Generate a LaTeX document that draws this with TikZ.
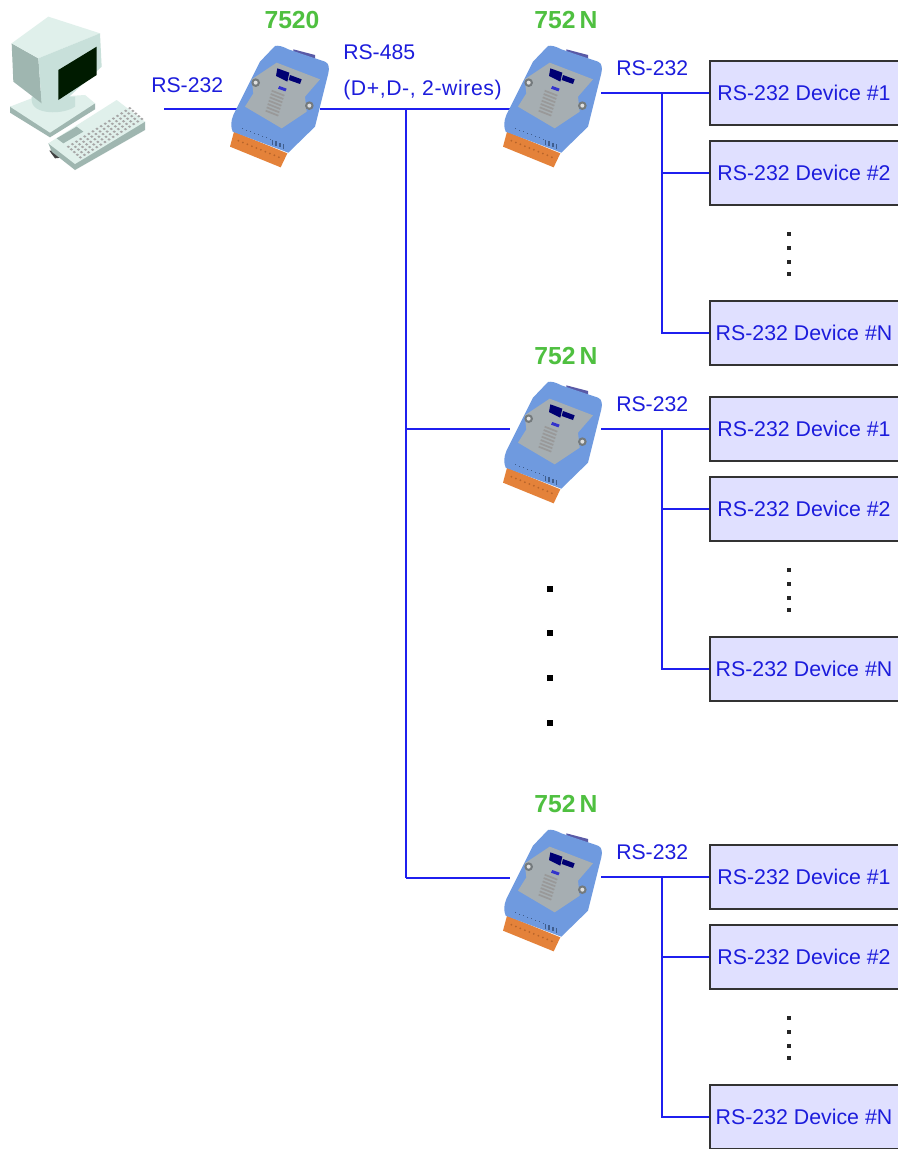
\documentclass[tikz,border=0pt]{standalone}
\usepackage{fontspec}
\setmainfont{Liberation Sans}
\definecolor{wire}{HTML}{1F1FEF}
\definecolor{lbl}{HTML}{1C1CDC}
\definecolor{boxfill}{HTML}{E0E0FF}
\definecolor{grn}{HTML}{4FC040}
\definecolor{modblue}{HTML}{6F9ADF}
\definecolor{moddark}{HTML}{5A86CC}
\definecolor{modplate}{HTML}{A6AEB2}
\definecolor{termo}{HTML}{E4823A}
\definecolor{termd}{HTML}{B8652A}
\definecolor{pcl}{HTML}{E0F0EB}
\definecolor{pcm}{HTML}{C8E0DA}
\definecolor{pcd}{HTML}{9FB6B0}
\tikzset{
  x=0.75pt,y=-0.75pt,
  wireline/.style={draw=wire,line width=1.7pt},
  devbox/.style={draw=black!80,fill=boxfill,line width=1.5pt,minimum width=145.5pt,minimum height=48pt,inner sep=0pt,text=lbl,font=\fontsize{16}{18}\selectfont},
  wirelabel/.style={text=lbl,font=\fontsize{15.9}{18}\selectfont,inner sep=0pt,anchor=west},
  modlabel/.style={text=grn,font=\fontsize{18.5}{20}\selectfont\bfseries,inner sep=0pt},
  bigdot/.style={fill=black,draw=none,minimum size=3.9pt,inner sep=0pt},
  smalldot/.style={fill=black!85,draw=none,minimum size=3pt,inner sep=0pt},
  module/.pic={
    \begin{scope}[x=.25pt,y=-.25pt]
      % connector
      \fill[gray!70!blue] (880,148) -- (945,165) -- (945,190) -- (880,175) -- cycle;
      % terminal block
      \fill[termo] (702,395) -- (862,460) -- (842,502) -- (690,440) -- cycle;
      \foreach \i in {0,...,9}
        \fill[termd] (715+\i*13.5,422+\i*5.5) circle[radius=3];
      % body
      \fill[modblue] (825,138) .. controls (835,135) and (850,140) .. (865,148)
        -- (975,185) .. controls (988,190) and (988,205) .. (985,220)
        -- (945,380) -- (865,458) -- (698,395) .. controls (692,380) and (692,365) .. (700,345)
        -- (780,185) -- cycle;
      % plate
      \fill[modplate] (755,238) -- (830,188) -- (960,238) -- (915,290) -- (920,335) -- (845,385) -- (735,320) -- (760,280) -- cycle;
      % screws
      \fill[modplate!70!black] (767,248) circle[radius=13];
      \fill[modplate!70!black] (928,317) circle[radius=13];
      \fill[white!75!gray] (767,248) circle[radius=6];
      \fill[white!75!gray] (928,317) circle[radius=6];
      % logo and printing
      \fill[blue!45!black] (832,205) -- (868,218) -- (862,245) -- (828,228) -- cycle;
      \fill[blue!45!black] (870,225) -- (905,238) -- (900,252) -- (866,240) -- cycle;
      \fill[blue!60!gray] (838,258) -- (860,266) -- (856,274) -- (834,266) -- cycle;
      \foreach \i in {0,...,6}
        \draw[black!40,line width=1.3pt] (815-\i*3,272+\i*10) -- ++(38,15);
      \foreach \i in {0,...,7}
        \fill[moddark!70!black] (725+\i*12,384+\i*4.5) rectangle ++(5,4);
      \foreach \i in {0,...,3}
        \fill[moddark!70!black] (815+\i*11,420+\i*4) rectangle ++(5,14);
    \end{scope}
  }
}
\begin{document}
\begin{tikzpicture}
\useasboundingbox (0,0) rectangle (898,1149);
\clip (0,0) rectangle (898,1149);
\fill[white] (0,0) rectangle (898,1149);

% computer
\begin{scope}[x=.25pt,y=-.25pt]
  % base
  \fill[pcd] (30,320) -- (30,338) -- (150,412) -- (285,328) -- (285,310) -- cycle;
  \fill[pcl] (30,320) -- (95,295) -- (255,285) -- (285,310) -- (150,398) -- cycle;
  \fill[pcm] (95,300) .. controls (95,345) and (190,345) .. (225,320) -- (225,290) -- (95,290) -- cycle;
  % monitor
  \fill[pcd] (35,130) -- (115,175) -- (125,310) -- (40,245) -- cycle;
  \fill[pcl] (35,130) -- (145,50) -- (300,100) -- (115,175) -- cycle;
  \fill[pcm] (115,175) -- (300,100) -- (305,200) -- (175,320) -- (125,310) -- cycle;
  \fill[black!85!green!70!black] (175,210) -- (290,140) -- (290,225) -- (175,300) -- cycle;
  % keyboard
  \fill[black!75] (148,452) -- (175,450) -- (195,472) -- (165,475) -- cycle;
  \fill[pcd] (145,430) -- (155,455) -- (225,510) -- (435,390) -- (435,365) -- cycle;
  \fill[pcl] (145,430) -- (350,300) -- (435,365) -- (225,492) -- cycle;
  \foreach \i in {0,...,15}
    \foreach \j in {0,...,4}
      \fill[gray!70] (200+\i*12.3+\j*9,440-\i*7.7+\j*8) -- ++(5,-3.5) -- ++(5,4) -- ++(-5,3.5) -- cycle;
  \fill[pcd] (170,415) -- (230,380) -- (250,395) -- (190,430) -- cycle;
\end{scope}

% named points
\coordinate (pc) at (164,109);
\coordinate (aw) at (238,109);
\coordinate (ae) at (320,109);
\coordinate (bw) at (510,109);
\coordinate (j1) at (406,109);
\coordinate (cw) at (510,429);
\coordinate (dw) at (510,878);
\coordinate (j2) at (406,429);
\coordinate (j3) at (406,878);

\draw[wireline] (pc) -- (aw);
\draw[wireline] (ae) -- (bw);
\draw[wireline] (j1) -- (j3);
\draw[wireline] (j2) -- (cw);
\draw[wireline] (j3) -- (dw);

\pic (a) at (0,0) {module};
\node[modlabel] (lab7520) at (292,20) {7520};
\node[wirelabel] (l232) at (151,85) {RS-232};
\node[wirelabel] (l485) at (343,52) {RS-485};
\node[wirelabel] (lwires) at (343,90) {\addfontfeature{LetterSpace=2.8}(D+,D-, 2-wires)};

\foreach \g/\d in {b/0,c/336,d/784}{
  \coordinate (\g o) at (601,93+\d);
  \coordinate (\g j) at (662,93+\d);
  \node[devbox] (\g1) at (807,93+\d) {RS-232 Device \#1\kern4.5pt};
  \node[devbox] (\g2) at (807,173+\d) {RS-232 Device \#2\kern4.5pt};
  \node[devbox] (\g3) at (807,333+\d) {RS-232 Device \#N\kern4.5pt};
  \draw[wireline] (\g o) -- (\g1.west |- \g o);
  \draw[wireline] (\g j) |- (\g3.west);
  \draw[wireline] (\g j |- \g2.west) -- (\g2.west);
  \pic (m\g) at (273,\d) {module};
  \node[modlabel] (n\g) at (566,20+\d) {752\,N};
  \node[wirelabel] (r\g) at (616,68+\d) {RS-232};
  \foreach \k/\yy in {1/234,2/248,3/262,4/274}
    \node[smalldot] (s\g\k) at (789,\yy+\d) {};
}

\foreach \k/\yy in {1/589,2/633,3/678,4/723}
  \node[bigdot] (dot\k) at (550,\yy) {};
\end{tikzpicture}
\end{document}
